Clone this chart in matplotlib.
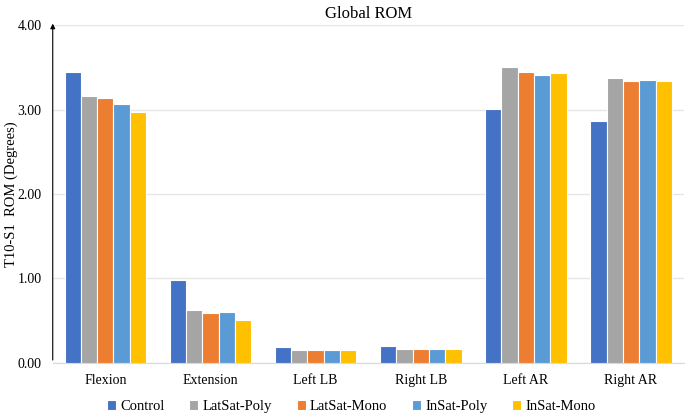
import numpy as np
import matplotlib.pyplot as plt

plt.rcParams['font.family'] = ['Liberation Serif', 'DejaVu Serif']

categories = ["Flexion", "Extension", "Left LB", "Right LB", "Left AR", "Right AR"]
series = ["Control", "LatSat-Poly", "LatSat-Mono", "InSat-Poly", "InSat-Mono"]
control = [3.44, 0.98, 0.19, 0.20, 3.01, 2.86]
latsat_poly = [3.16, 0.62, 0.15, 0.16, 3.50, 3.37]
latsat_mono = [3.14, 0.59, 0.15, 0.16, 3.44, 3.34]
insat_poly = [3.07, 0.60, 0.15, 0.16, 3.41, 3.35]
insat_mono = [2.97, 0.51, 0.15, 0.16, 3.43, 3.34]
colors = ["#4472C4", "#A5A5A5", "#ED7D31", "#5B9BD5", "#FFC000"]

fig = plt.figure(figsize=(6.85, 4.18), dpi=100)
ax = fig.add_axes([0.077, 0.132, 0.921, 0.808])

x = np.arange(len(categories))
w = 0.155
data = [control, latsat_poly, latsat_mono, insat_poly, insat_mono]
for i, (name, vals) in enumerate(zip(series, data)):
    ax.bar(x + (i - 2) * w, vals, w, color=colors[i], edgecolor="white",
           linewidth=0.8, label=name, zorder=3)

ax.set_xlim(-0.5, 5.5)
ax.set_ylim(0, 4)
ax.set_yticks([0, 1, 2, 3, 4])
ax.set_yticklabels(["0.00", "1.00", "2.00", "3.00", "4.00"], fontsize=10)
ax.set_xticks(x)
ax.set_xticklabels(categories, fontsize=10)
ax.tick_params(length=0, pad=8)
ax.grid(axis="y", color="#e6e6e6", linewidth=1, zorder=0)
for s in ["top", "right"]:
    ax.spines[s].set_visible(False)
ax.spines["bottom"].set_color("#d9d9d9")
ax.spines["left"].set_visible(False)
ax.annotate("", xy=(-0.5, 4.05), xytext=(-0.5, 0), xycoords="data",
            arrowprops=dict(arrowstyle="-|>", color="black", lw=0.8,
                            mutation_scale=7), annotation_clip=False)

ax.set_title("Global ROM", fontsize=12, pad=5)
fig.text(0.016, 0.536, "T10-S1  ROM (Degrees)", fontsize=10.5, rotation=90,
         ha="center", va="center")

fig.legend(*ax.get_legend_handles_labels(), loc="center",
           bbox_to_anchor=(0.513, 0.027), ncol=5, frameon=False,
           fontsize=10.5, handlelength=0.6, handleheight=0.6, handletextpad=0.3,
           columnspacing=1.7, borderpad=0)

fig.savefig("out.png", dpi=100)
